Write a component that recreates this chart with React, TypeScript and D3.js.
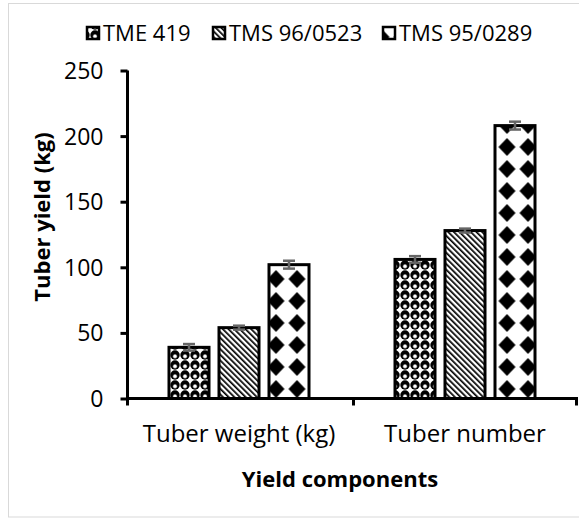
import React, { useRef, useEffect } from "react";
import * as d3 from "d3";

const categories = ["Tuber weight (kg)", "Tuber number"];
const varieties = ["TME 419", "TMS 96/0523", "TMS 95/0289"];
const tme419 = [39, 106];
const tms960523 = [54, 128];
const tms950289 = [102, 208];
const errTme419 = [2.5, 2.5];
const errTms960523 = [1.5, 1.5];
const errTms950289 = [3, 3];
const yTicks = [0, 50, 100, 150, 200, 250];
const patternIds = ["pat-spheres", "pat-stripes", "pat-diamonds"];

const FONT = "'Open Sans', 'Noto Sans', sans-serif";

const App = () => {
  const svgRef = useRef(null);
  const width = 579;
  const height = 519;

  useEffect(() => {
    const svg = d3.select(svgRef.current);
    svg.selectAll("*").remove();

    const values = [tme419, tms960523, tms950289];
    const errors = [errTme419, errTms960523, errTms950289];

    // patterns
    const defs = svg.append("defs");
    const p1 = defs.append("pattern").attr("id", "pat-spheres")
      .attr("patternUnits", "userSpaceOnUse").attr("width", 10).attr("height", 10);
    p1.append("rect").attr("width", 10).attr("height", 10).attr("fill", "white");
    p1.append("circle").attr("cx", 5).attr("cy", 5).attr("r", 4.7).attr("fill", "black");
    p1.append("circle").attr("cx", 5).attr("cy", 6.3).attr("r", 1.9)
      .attr("fill", "white").attr("stroke", "#999").attr("stroke-width", 0.6);

    const p2 = defs.append("pattern").attr("id", "pat-stripes")
      .attr("patternUnits", "userSpaceOnUse").attr("width", 4).attr("height", 4)
      .attr("patternTransform", "rotate(-45)");
    p2.append("rect").attr("width", 4).attr("height", 4).attr("fill", "white");
    p2.append("rect").attr("width", 1.7).attr("height", 4).attr("fill", "black");

    const p3 = defs.append("pattern").attr("id", "pat-diamonds")
      .attr("patternUnits", "userSpaceOnUse").attr("width", 21).attr("height", 22)
      .attr("x", 13.5).attr("y", 4);
    p3.append("rect").attr("width", 21).attr("height", 22).attr("fill", "white");
    p3.append("path").attr("d", "M10.5,2L19,11L10.5,20L2,11Z").attr("fill", "black");

    // frame
    svg.append("rect").attr("x", 8.5).attr("y", 3.5).attr("width", 580).attr("height", 513.5)
      .attr("fill", "none").attr("stroke", "#d9d9d9").attr("stroke-width", 1);

    const x0 = d3.scaleBand().domain(categories).range([126, 578]);
    const x1 = d3.scaleBand().domain(varieties).range([43, 183]).paddingInner(0.2);
    const y = d3.scaleLinear().domain([0, 250]).range([398.5, 70.5]);

    // bars
    categories.forEach((c, ci) => {
      varieties.forEach((v, vi) => {
        const bx = x0(c) + x1(v);
        svg.append("rect")
          .attr("x", bx).attr("y", y(values[vi][ci]))
          .attr("width", x1.bandwidth())
          .attr("height", y(0) - y(values[vi][ci]))
          .attr("fill", `url(#${patternIds[vi]})`)
          .attr("stroke", "black").attr("stroke-width", 3);
      });
    });

    // error bars
    categories.forEach((c, ci) => {
      varieties.forEach((v, vi) => {
        const cx = x0(c) + x1(v) + x1.bandwidth() / 2;
        const val = values[vi][ci];
        const e = errors[vi][ci];
        const g = svg.append("g").attr("stroke", "#666").attr("stroke-width", 2.5);
        g.append("line").attr("x1", cx).attr("x2", cx).attr("y1", y(val - e)).attr("y2", y(val + e));
        [val - e, val + e].forEach((t) => {
          g.append("line").attr("x1", cx - 6).attr("x2", cx + 6).attr("y1", y(t)).attr("y2", y(t));
        });
      });
    });

    // y axis
    const yAxis = svg.append("g").attr("transform", "translate(127.5,0)")
      .call(d3.axisLeft(y).tickValues(yTicks).tickSize(7).tickSizeOuter(0).tickPadding(17));
    yAxis.select(".domain").attr("stroke", "black").attr("stroke-width", 3);
    yAxis.selectAll(".tick line").attr("stroke", "black").attr("stroke-width", 3);
    yAxis.selectAll(".tick text").attr("font-family", FONT).attr("font-size", 23)
      .attr("fill", "black").attr("dy", "0.35em");
    yAxis.select(".domain").attr("d", `M0,${y(250)}V${y(0)}`);

    // x axis
    const xAxisG = svg.append("g").attr("transform", `translate(0,${y(0)})`);
    xAxisG.append("line").attr("x1", 126).attr("x2", 578).attr("y1", 0).attr("y2", 0)
      .attr("stroke", "black").attr("stroke-width", 3);
    const boundaries = [...categories.map((c) => x0(c)), x0.range()[1]];
    boundaries.forEach((bx, i) => {
      const lx = i === boundaries.length - 1 ? bx - 1.5 : bx + 1.5;
      xAxisG.append("line").attr("x1", lx).attr("x2", lx)
        .attr("y1", 0).attr("y2", 7).attr("stroke", "black").attr("stroke-width", 3);
    });
    categories.forEach((c) => {
      svg.append("text").attr("x", x0(c) + x0.bandwidth() / 2).attr("y", 442)
        .attr("text-anchor", "middle").attr("font-family", FONT).attr("font-size", 24)
        .attr("fill", "black").text(c);
    });

    // titles
    svg.append("text").attr("x", 340).attr("y", 487).attr("text-anchor", "middle")
      .attr("font-family", FONT).attr("font-size", 22).attr("font-weight", "bold")
      .text("Yield components");
    svg.append("text").attr("transform", "translate(50,217) rotate(-90)")
      .attr("text-anchor", "middle").attr("font-family", FONT).attr("font-size", 22)
      .attr("font-weight", "bold").text("Tuber yield (kg)");

    // legend
    const legendX = [86, 212, 382];
    varieties.forEach((v, i) => {
      svg.append("rect").attr("x", legendX[i] + 1).attr("y", 27).attr("width", 12).attr("height", 12)
        .attr("fill", `url(#${patternIds[i]})`).attr("stroke", "black").attr("stroke-width", 2.5);
      svg.append("text").attr("x", legendX[i] + 17).attr("y", 40.5)
        .attr("font-family", FONT).attr("font-size", 22).attr("fill", "black").text(v);
    });
  }, []);

  return (
    <div>
      <svg ref={svgRef} width={width} height={height}
        style={{ position: "absolute", left: 0, top: 0, background: "white" }} />
    </div>
  );
};

export default App;
